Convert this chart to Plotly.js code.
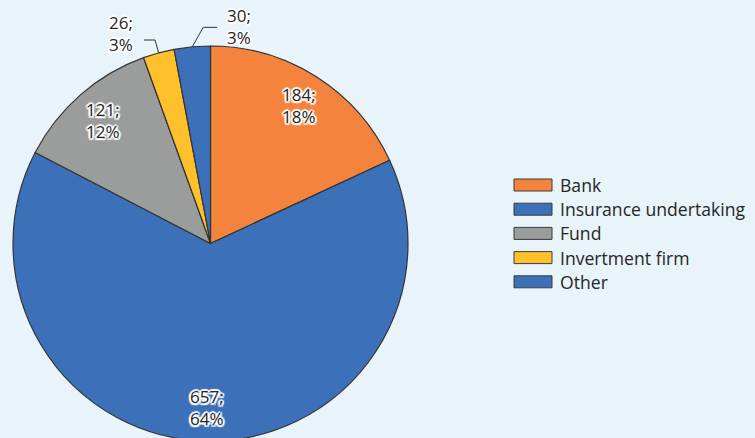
<!DOCTYPE html>
<html>
<head>
<meta charset="utf-8">
<script src="https://cdn.plot.ly/plotly-3.0.1.min.js"></script>
<style>
  html, body { margin: 0; padding: 0; background: #E8F3FA; overflow: hidden; }
  #chart { width: 755px; height: 480px; }
</style>
</head>
<body>
<div id="chart"></div>
<script>
// ---- data ----
const categories = ["Bank", "Insurance undertaking", "Fund", "Invertment firm", "Other"];
const counts = [184, 657, 121, 26, 30];
const pctLabels = ["18%", "64%", "12%", "3%", "3%"];
const sliceColors = ["#F4843D", "#3C71BA", "#9B9C9C", "#FEC12B", "#3C71BA"];

// ---- geometry / style ----
const W = 755, H = 480;
const CX = 210.5, CY = 243.5, R = 197.5;
const FONT = "'Open Sans', 'Noto Sans', sans-serif";
const TXT = "#262626";
const halo = "2px 0 1px #fff, -2px 0 1px #fff, 0 2px 1px #fff, 0 -2px 1px #fff, 1.5px 1.5px 1px #fff, -1.5px -1.5px 1px #fff, 1.5px -1.5px 1px #fff, -1.5px 1.5px 1px #fff";
// outside label placement (pixel offsets)
const outside = {
  3: { edx: -3.7, edy: -12.9, h: -11, lx: -22.5, ly: -7 },
  4: { edx: 11, edy: -19.5, h: 14, lx: 22, ly: -1 }
};
const insideFrac = 0.83;

const px = x => x / W;
const py = y => 1 - y / H;

const total = counts.reduce((a, b) => a + b, 0);
const annotations = [];
const shapes = [];
let cum = 0;
counts.forEach((v, i) => {
  const mid = (cum + v / 2) / total * 2 * Math.PI;
  cum += v;
  let lx, ly;
  if (outside[i]) {
    const o = outside[i];
    const ex = CX + R * Math.sin(mid), ey = CY - R * Math.cos(mid);
    const bx = ex + o.edx, by = ey + o.edy;
    const hx = bx + o.h;
    shapes.push({
      type: "path", xref: "paper", yref: "paper",
      path: `M${px(ex)},${py(ey)} L${px(bx)},${py(by)} L${px(hx)},${py(by)}`,
      line: { color: "#333333", width: 1 }
    });
    lx = hx + o.lx; ly = by + o.ly;
  } else {
    lx = CX + insideFrac * R * Math.sin(mid);
    ly = CY - insideFrac * R * Math.cos(mid);
  }
  annotations.push({
    xref: "paper", yref: "paper", x: px(lx), y: py(ly),
    xanchor: "center", yanchor: "middle", showarrow: false,
    text: counts[i] + ";<br>" + pctLabels[i], align: "center",
    font: { family: FONT, size: 17, color: TXT, shadow: halo }
  });
});

// custom legend
categories.forEach((c, i) => {
  const top = 179 + 24.2 * i;
  shapes.push({
    type: "rect", xref: "paper", yref: "paper",
    x0: px(514), x1: px(552), y0: py(top), y1: py(top + 12),
    fillcolor: sliceColors[i], line: { color: "#3a3a3a", width: 1 }
  });
  annotations.push({
    xref: "paper", yref: "paper", x: px(558), y: py(top + 6),
    xanchor: "left", yanchor: "middle", showarrow: false, text: c,
    font: { family: FONT, size: 17.6, color: TXT }
  });
});

const trace = {
  type: "pie",
  labels: categories,
  values: counts,
  sort: false,
  direction: "clockwise",
  rotation: 0,
  textinfo: "none",
  hoverinfo: "label+value+percent",
  marker: { colors: sliceColors, line: { color: "#333333", width: 1.2 } },
  domain: { x: [px(CX - R), px(CX + R)], y: [py(CY + R), py(CY - R)] },
  showlegend: false
};

Plotly.newPlot("chart", [trace], {
  width: W, height: H,
  margin: { l: 0, r: 0, t: 0, b: 0 },
  paper_bgcolor: "#E8F3FA",
  plot_bgcolor: "#E8F3FA",
  showlegend: false,
  annotations: annotations,
  shapes: shapes
}, { displayModeBar: false, staticPlot: true });
</script>
</body>
</html>
